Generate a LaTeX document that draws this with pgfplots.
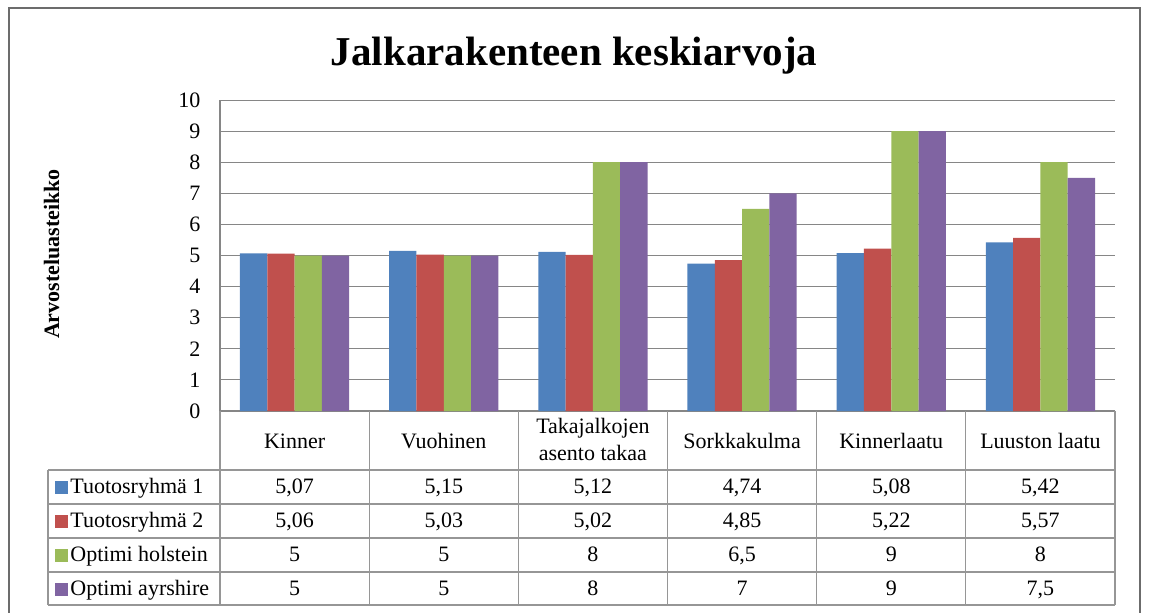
\documentclass[border=0pt]{standalone}
\usepackage{fontspec}
\setmainfont{Liberation Serif}
\usepackage{pgfplots}
\pgfplotsset{compat=1.18}
\definecolor{c1}{HTML}{4F81BD}
\definecolor{c2}{HTML}{C0504D}
\definecolor{c3}{HTML}{9BBB59}
\definecolor{c4}{HTML}{8064A2}
\definecolor{gridc}{RGB}{134,134,134}
\definecolor{tabc}{RGB}{150,150,150}
\begin{document}
\begin{tikzpicture}
\begin{axis}[
  at={(110pt,-205.5pt)}, anchor=south west,
  width=447.5pt, height=155.5pt, scale only axis,
  xmin=-0.5, xmax=5.5, ymin=0, ymax=10,
  ytick={0,1,...,10}, xtick=\empty,
  ymajorgrids, grid style={gridc, line width=0.5pt},
  axis x line*=bottom, axis y line*=left,
  axis line style={gridc, line width=0.6pt, -},
  major tick length=0pt,
  tick label style={font=\fontsize{11}{13}\selectfont},
  yticklabel style={xshift=-6.3pt},
  /pgf/number format/assume math mode=true,
  ybar=0pt, bar width=13.65pt,
]
\addplot[fill=c1, draw=none] coordinates {(0,5.07) (1,5.15) (2,5.12) (3,4.74) (4,5.08) (5,5.42)};
\addplot[fill=c2, draw=none] coordinates {(0,5.06) (1,5.03) (2,5.02) (3,4.85) (4,5.22) (5,5.57)};
\addplot[fill=c3, draw=none] coordinates {(0,5) (1,5) (2,8) (3,6.5) (4,9) (5,8)};
\addplot[fill=c4, draw=none] coordinates {(0,5) (1,5) (2,8) (3,7) (4,9) (5,7.5)};
\end{axis}
\begin{scope}[x=0.5pt,y=-0.5pt]
\path[use as bounding box] (0,0) rectangle (1149,612);
\draw[gray!85!black, line width=1.2pt] (9,8) rectangle (1140,620);
\node[anchor=base, font=\fontsize{20.5}{24}\selectfont\bfseries] at (574,65) {Jalkarakenteen keskiarvoja};
\node[anchor=base, rotate=90, font=\fontsize{11}{13}\selectfont\bfseries] at (59,254) {Arvosteluasteikko};
% table lines
\draw[tabc, line width=0.6pt] (48,470) -- (1115,470);
\foreach \yy in {504,538,572,605} {\draw[tabc, line width=0.6pt] (48,\yy) -- (1115,\yy);}
\draw[tabc, line width=0.6pt] (48,470) -- (48,605);
\foreach \k in {0,...,6} {\draw[tabc, line width=0.6pt] ({220+149.17*\k},411) -- ({220+149.17*\k},605);}
% headers
\begin{scope}[every node/.style={font=\fontsize{11}{13}\selectfont, anchor=base, inner sep=0pt}]
\node at ({220+149.17*0.5},448) {Kinner};
\node at ({220+149.17*1.5},448) {Vuohinen};
\node at ({220+149.17*2.5},433) {Takajalkojen};
\node at ({220+149.17*2.5},460) {asento takaa};
\node at ({220+149.17*3.5},448) {Sorkkakulma};
\node at ({220+149.17*4.5},448) {Kinnerlaatu};
\node at ({220+149.17*5.5},448) {Luuston laatu};
% row labels
\fill[c1] (55,481) rectangle (68,494);
\fill[c2] (55,515) rectangle (68,528);
\fill[c3] (55,549) rectangle (68,562);
\fill[c4] (55,583) rectangle (68,596);
\node[anchor=base west] at (70,493) {Tuotosryhmä 1};
\node[anchor=base west] at (70,527) {Tuotosryhmä 2};
\node[anchor=base west] at (70,561) {Optimi holstein};
\node[anchor=base west] at (70,595) {Optimi ayrshire};
% values
\foreach \v [count=\i from 0] in {5{,}07,5{,}15,5{,}12,4{,}74,5{,}08,5{,}42} {\node at ({220+149.17*(\i+0.5)},493) {\v};}
\foreach \v [count=\i from 0] in {5{,}06,5{,}03,5{,}02,4{,}85,5{,}22,5{,}57} {\node at ({220+149.17*(\i+0.5)},527) {\v};}
\foreach \v [count=\i from 0] in {5,5,8,6{,}5,9,8} {\node at ({220+149.17*(\i+0.5)},561) {\v};}
\foreach \v [count=\i from 0] in {5,5,8,7,9,7{,}5} {\node at ({220+149.17*(\i+0.5)},595) {\v};}
\end{scope}
\end{scope}
\end{tikzpicture}
\end{document}
